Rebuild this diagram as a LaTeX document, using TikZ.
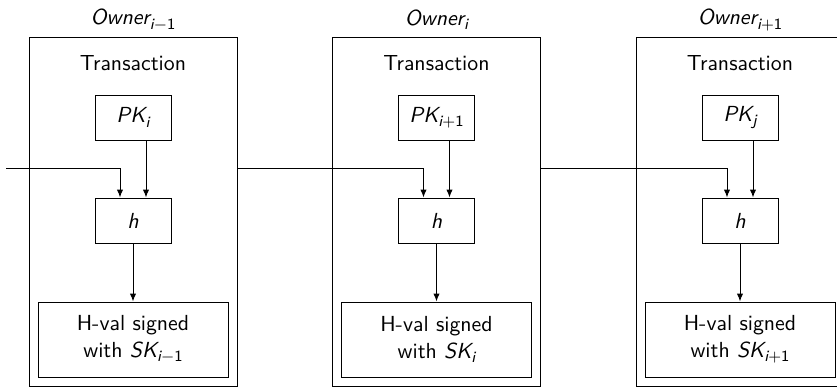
\documentclass[tikz,border=0pt]{standalone}
\usetikzlibrary{arrows.meta}
\renewcommand{\familydefault}{\sfdefault}
% oblique sans variable with a lowered index
\newcommand{\var}[2]{{\itshape #1}\raisebox{-0.45ex}{\fontsize{7.8}{8}\selectfont #2}}
\newcommand{\iv}[1]{{\itshape #1}}
\tikzset{
  frame/.style={draw, minimum width=104pt, minimum height=174.5pt, inner sep=0pt},
  keybox/.style={draw, minimum width=38pt, minimum height=22.5pt, inner sep=0pt},
  hvbox/.style={draw, minimum width=95pt, minimum height=37.5pt, inner sep=0pt, align=center},
  lbl/.style={inner sep=0pt},
  flow/.style={-{Latex[length=4pt,width=3.2pt]}},
}
\begin{document}
\begin{tikzpicture}[x=0.5pt, y=-0.5pt, line width=0.5pt, font=\fontsize{10.9}{13.5}\selectfont]
\useasboundingbox (0,0) rectangle (837,388);
\clip (0,0) rectangle (837,388);

% one owner block: frame, captions, public key, hash and signed value
\foreach \i/\cx/\own/\pk/\sk in {%
    1/133/{\iv{i}$-$1}/{\iv{i}}/{\iv{i}$-$1},
    2/436.5/{\iv{i}}/{\iv{i}+1}/{\iv{i}},
    3/740/{\iv{i}+1}/{\iv{j}}/{\iv{i}+1}} {
  \node[frame]  (f\i)  at (\cx,211.5) {};
  \node[lbl]    (o\i)  at (\cx,20)    {\var{Owner}{\own}};
  \node[lbl]    (t\i)  at (\cx,63)    {Transaction};
  \node[keybox] (pk\i) at (\cx,117.5) {\var{PK}{\pk}};
  \node[keybox] (h\i)  at (\cx,220.5) {\iv{h}};
  \node[hvbox]  (hv\i) at (\cx,339.5) {H-val signed\\with \var{SK}{\sk}};
  \draw[flow] ([xshift=6.5pt]pk\i.south) -- ([xshift=6.5pt]h\i.north);
  \draw[flow] (h\i) -- (hv\i);
}

% chain of hashes from one owner to the next
\coordinate (in) at (6,168);
\draw[flow] (in) -| ([xshift=-6.5pt]h1.north);
\draw[flow] (f1.east |- in) -| ([xshift=-6.5pt]h2.north);
\draw[flow] (f2.east |- in) -| ([xshift=-6.5pt]h3.north);
\end{tikzpicture}
\end{document}
